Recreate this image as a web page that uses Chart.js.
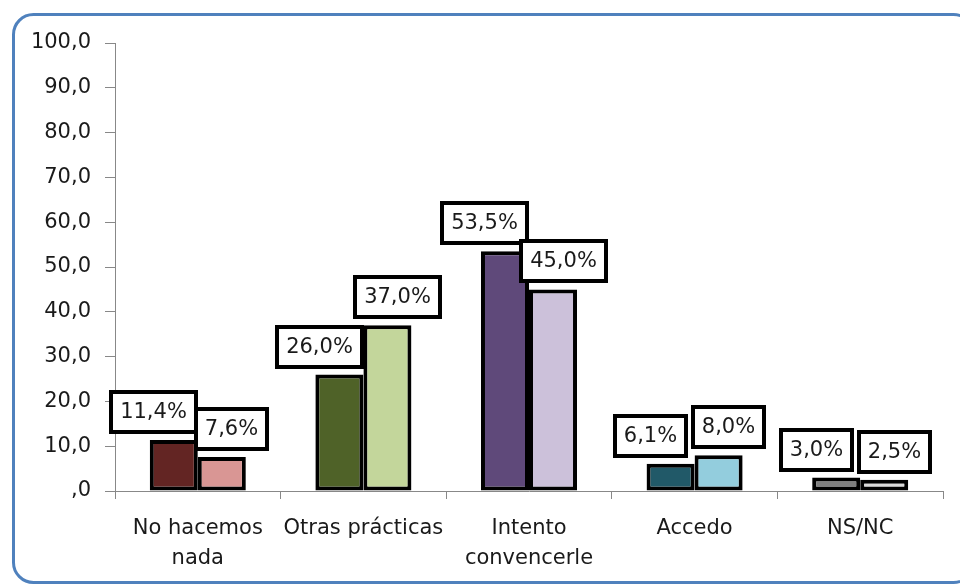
<!DOCTYPE html>
<html>
<head>
<meta charset="utf-8">
<script src="https://cdn.jsdelivr.net/npm/chart.js@4/dist/chart.umd.min.js"></script>
<style>
  html, body { margin: 0; padding: 0; background: #ffffff; }
  #wrap { width: 960px; height: 584px; position: relative; }
</style>
</head>
<body>
<div id="wrap"><canvas id="c" width="960" height="584"></canvas></div>
<script>
const categories = [["No hacemos", "nada"], "Otras prácticas", ["Intento", "convencerle"], "Accedo", "NS/NC"];
const seriesA = [11.4, 26.0, 53.5, 6.1, 3.0];
const seriesB = [7.6, 37.0, 45.0, 8.0, 2.5];
const colorsA = ["#632523", "#4F6228", "#5F497A", "#215968", "#7F7F7F"];
const colorsB = ["#D99694", "#C3D69B", "#CCC1DA", "#93CDDD", "#D9D9D9"];
const yTicks = [0, 10, 20, 30, 40, 50, 60, 70, 80, 90, 100];

const FONT = "'DejaVu Sans', Verdana, sans-serif";

function fmtTick(v) {
  const s = v.toFixed(1).replace('.', ',');
  return v === 0 ? ',0' : s;
}
function fmtPct(v) {
  return v.toFixed(1).replace('.', ',') + '%';
}

const frame = {
  id: 'frame',
  afterDraw(chart) {
    const ctx = chart.ctx;
    ctx.save();
    ctx.strokeStyle = '#4F81BD';
    ctx.lineWidth = 3;
    ctx.beginPath();
    ctx.roundRect(13.5, 14.5, 960, 568, 20);
    ctx.stroke();
    ctx.restore();
  }
};

const boxLabels = {
  id: 'boxLabels',
  afterDatasetsDraw(chart) {
    const ctx = chart.ctx;
    ctx.save();
    ctx.font = '21px ' + FONT;
    ctx.textAlign = 'center';
    ctx.textBaseline = 'middle';
    const offsets = [-20, 10];
    chart.data.datasets.forEach((ds, di) => {
      const meta = chart.getDatasetMeta(di);
      meta.data.forEach((bar, i) => {
        const txt = fmtPct(ds.data[i]);
        const w = Math.round(ctx.measureText(txt).width + 18);
        const h = 40;
        const cx = bar.x + offsets[di];
        const bottom = bar.y - 8;
        const x0 = Math.round(cx - w / 2), y0 = Math.round(bottom - h);
        ctx.fillStyle = '#ffffff';
        ctx.fillRect(x0, y0, w, h);
        ctx.lineWidth = 4;
        ctx.strokeStyle = '#000000';
        ctx.strokeRect(x0, y0, w, h);
        ctx.fillStyle = '#1a1a1a';
        ctx.fillText(txt, x0 + w / 2, y0 + h / 2 + 1);
      });
    });
    ctx.restore();
  }
};

new Chart(document.getElementById('c'), {
  type: 'bar',
  data: {
    labels: categories,
    datasets: [
      { data: seriesA, backgroundColor: colorsA, borderColor: '#000000', borderWidth: 4, borderSkipped: false,
        barPercentage: 1.0, categoryPercentage: 0.58 },
      { data: seriesB, backgroundColor: colorsB, borderColor: '#000000', borderWidth: 4, borderSkipped: false,
        barPercentage: 1.0, categoryPercentage: 0.58 }
    ]
  },
  options: {
    responsive: false,
    animation: false,
    layout: { padding: { left: 0, right: 17, top: 43, bottom: 0 } },
    plugins: { legend: { display: false }, tooltip: { enabled: false } },
    scales: {
      y: {
        min: 0, max: 100,
        afterBuildTicks(axis) { axis.ticks = yTicks.map(v => ({ value: v })); },
        afterFit(axis) { axis.width = 115; },
        border: { display: true, color: '#888888', width: 1 },
        grid: { drawOnChartArea: false, drawTicks: true, tickLength: 10, color: '#888888' },
        ticks: { color: '#1a1a1a', font: { family: FONT, size: 21 }, padding: 14,
                 callback: (v) => fmtTick(v) }
      },
      x: {
        afterFit(axis) { axis.height = 93; },
        border: { display: true, color: '#888888', width: 1 },
        grid: { drawOnChartArea: false, drawTicks: true, tickLength: 8, color: '#888888', offset: true },
        ticks: { color: '#1a1a1a', font: { family: FONT, size: 21, lineHeight: 1.45 }, padding: 14,
                 maxRotation: 0, autoSkip: false }
      }
    }
  },
  plugins: [frame, boxLabels]
});
</script>
</body>
</html>
